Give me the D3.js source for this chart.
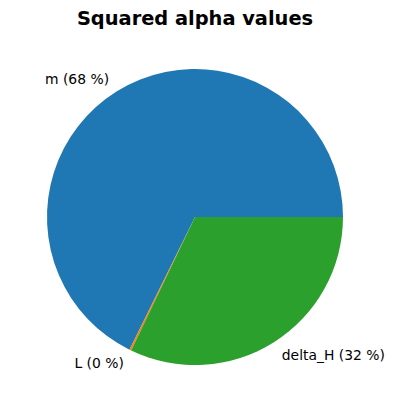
<!DOCTYPE html>
<html>
<head>
<meta charset="utf-8">
<script src="https://cdn.jsdelivr.net/npm/d3@7"></script>
<style>
  html, body { margin: 0; padding: 0; background: #fff; }
  svg { display: block; font-family: "DejaVu Sans", sans-serif; }
</style>
</head>
<body>
<script>
(function () {
    "use strict";

    // data
    var labels = ["m", "L", "delta_H"];
    var values = [0.677, 0.002, 0.321];
    var colors = ["#1f77b4", "#ff7f0e", "#2ca02c"];
    var title = "Squared alpha values";

    var width = 395, height = 412;
    var cx = 195, cy = 217, radius = 148;

    var svg = d3.select("body").append("svg")
            .attr("width", width)
            .attr("height", height);

    svg.append("text")
            .attr("x", cx)
            .attr("y", 25)
            .attr("text-anchor", "middle")
            .attr("font-size", "19.4px")
            .attr("font-weight", "bold")
            .text(title);

    var slices = labels.map(function (l, i) {
        return {label: l, value: values[i], color: colors[i]};
    });

    // matplotlib style: start at 3 o'clock, go counterclockwise
    var pie = d3.pie()
            .sort(null)
            .value(function (d) { return d.value; })
            .startAngle(Math.PI / 2)
            .endAngle(Math.PI / 2 - 2 * Math.PI);

    var arc = d3.arc().innerRadius(0).outerRadius(radius);

    var g = svg.append("g")
            .attr("transform", "translate(" + cx + "," + cy + ")");

    var arcs = pie(slices);

    g.selectAll("path")
            .data(arcs)
            .enter().append("path")
            .attr("d", arc)
            .attr("fill", function (d) { return d.data.color; });

    var total = d3.sum(values);

    // labels sit at 1.1 * radius, on the mid angle of each wedge
    g.selectAll("text.lbl")
            .data(arcs)
            .enter().append("text")
            .attr("class", "lbl")
            .each(function (d) {
                var a = (d.startAngle + d.endAngle) / 2;
                var x = Math.sin(a) * radius * 1.1;
                var y = -Math.cos(a) * radius * 1.1;
                d3.select(this)
                        .attr("x", x)
                        .attr("y", y)
                        .attr("dy", "0.35em")
                        .attr("text-anchor", x > 0 ? "start" : "end");
            })
            .attr("font-size", "13.9px")
            .text(function (d) {
                return d.data.label + " (" + Math.round(100 * d.data.value / total) + " %)";
            });
})();
</script>
</body>
</html>
